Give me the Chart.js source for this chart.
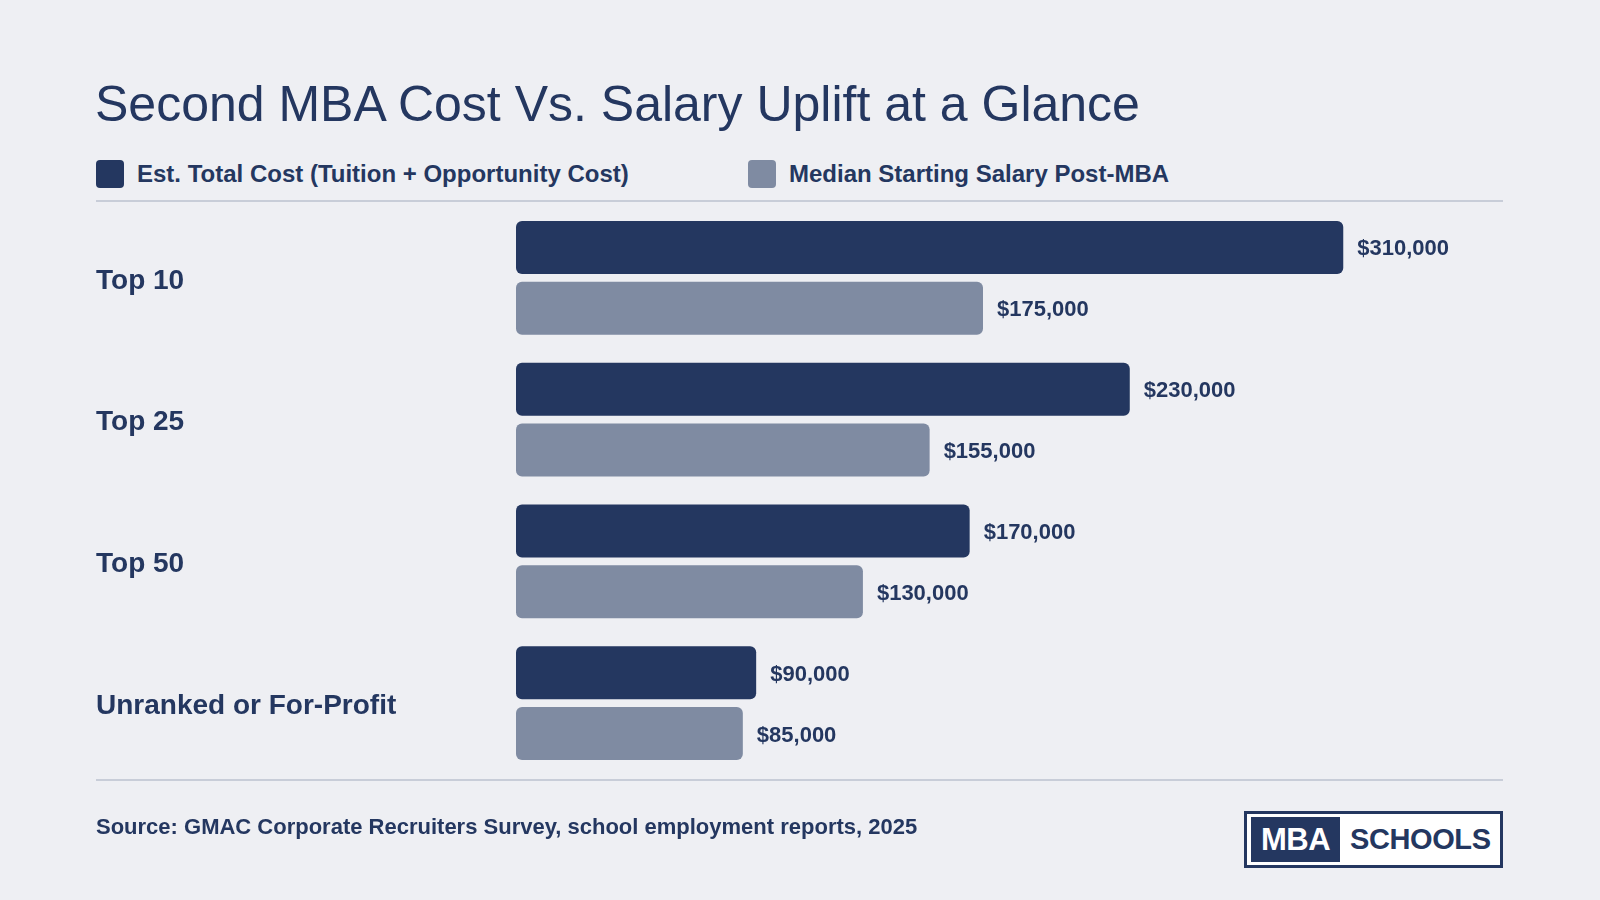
<!DOCTYPE html>
<html>
<head>
<meta charset="utf-8">
<script src="https://cdn.jsdelivr.net/npm/chart.js@4/dist/chart.umd.min.js"></script>
<style>
  html, body { margin: 0; padding: 0; }
  body { width: 1600px; height: 900px; background: #eeeff3; position: relative; overflow: hidden;
         font-family: "Liberation Sans", Arial, Helvetica, sans-serif; color: #243760; }
  #title { position: absolute; left: 95px; top: 74px; font-size: 50px; font-weight: normal; line-height: 60px; white-space: nowrap; }
  .leg { position: absolute; top: 160px; height: 28px; display: flex; align-items: center; font-weight: bold; font-size: 24px; white-space: nowrap; }
  .sw { width: 28px; height: 28px; border-radius: 4px; margin-right: 13px; }
  .rule { position: absolute; left: 96px; width: 1407px; height: 2px; background: #c8cdd8; }
  #source { position: absolute; left: 96px; top: 813px; font-size: 22px; font-weight: bold; line-height: 28px; white-space: nowrap; }
  #logo { position: absolute; left: 1244px; top: 811px; width: 253px; height: 51px; border: 3px solid #243760; background: #fff; }
  #logo .mba { position: absolute; left: 4px; top: 3px; width: 89px; height: 45px; background: #243760; color: #fff;
               font-weight: bold; font-size: 31px; line-height: 45px; text-align: center; letter-spacing: -0.5px; }
  #logo .sch { position: absolute; left: 103px; top: 3px; height: 45px; color: #243760; font-weight: bold; font-size: 29px; line-height: 45px; letter-spacing: -0.4px; }
  #chartWrap { position: absolute; left: 0; top: 0; width: 1600px; height: 900px; }
</style>
</head>
<body>
<div id="title">Second MBA Cost Vs. Salary Uplift at a Glance</div>
<div class="leg" style="left:96px;"><div class="sw" style="background:#243760"></div>Est. Total Cost (Tuition + Opportunity Cost)</div>
<div class="leg" style="left:748px;"><div class="sw" style="background:#7f8ba2"></div>Median Starting Salary Post-MBA</div>
<div class="rule" style="top:200px;"></div>
<div class="rule" style="top:779px;"></div>
<div id="chartWrap"><canvas id="c" width="1600" height="900"></canvas></div>
<div id="source">Source: GMAC Corporate Recruiters Survey, school employment reports, 2025</div>
<div id="logo"><div class="mba">MBA</div><div class="sch">SCHOOLS</div></div>
<script>
const categories = ["Top 10", "Top 25", "Top 50", "Unranked or For-Profit"];
const seriesNames = ["Est. Total Cost (Tuition + Opportunity Cost)", "Median Starting Salary Post-MBA"];
const totalCost = [310000, 230000, 170000, 90000];
const medianSalary = [175000, 155000, 130000, 85000];
const colors = ["#243760", "#7f8ba2"];
const textColor = "#243760";
const fontFamily = '"Liberation Sans", Arial, Helvetica, sans-serif';

const valueLabels = {
  id: 'valueLabels',
  afterDatasetsDraw(chart) {
    const ctx = chart.ctx;
    ctx.save();
    ctx.font = 'bold 22px ' + fontFamily;
    ctx.fillStyle = textColor;
    ctx.textAlign = 'left';
    ctx.textBaseline = 'middle';
    chart.data.datasets.forEach((ds, di) => {
      const meta = chart.getDatasetMeta(di);
      meta.data.forEach((bar, i) => {
        const v = ds.data[i];
        ctx.fillText('$' + v.toLocaleString('en-US'), bar.x + 14, bar.y + 2);
      });
    });
    ctx.restore();
  }
};

new Chart(document.getElementById('c'), {
  type: 'bar',
  data: {
    labels: categories,
    datasets: [
      { label: seriesNames[0], data: totalCost, backgroundColor: colors[0], borderRadius: 6, borderSkipped: false,
        categoryPercentage: 0.86, barPercentage: 0.87 },
      { label: seriesNames[1], data: medianSalary, backgroundColor: colors[1], borderRadius: 6, borderSkipped: false,
        categoryPercentage: 0.86, barPercentage: 0.87 }
    ]
  },
  options: {
    indexAxis: 'y',
    responsive: false,
    animation: false,
    layout: { padding: { left: 96, top: 207, bottom: 126, right: 150 } },
    plugins: { legend: { display: false }, title: { display: false }, tooltip: { enabled: false } },
    scales: {
      x: { display: false, min: 0, max: 350000, grid: { display: false } },
      y: {
        grid: { display: false, drawBorder: false },
        border: { display: false },
        ticks: { color: textColor, font: { family: fontFamily, size: 28, weight: 'bold' }, crossAlign: 'far', padding: 0, labelOffset: 3 },
        afterFit(scale) { scale.width = 420; }
      }
    }
  },
  plugins: [valueLabels]
});
</script>
</body>
</html>
